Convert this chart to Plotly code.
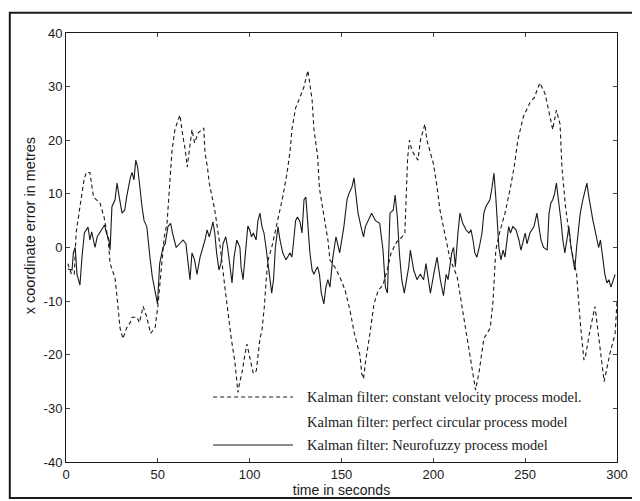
import plotly.graph_objects as go

# ---- data ----
time_cv = [1, 3, 4.5, 5.5, 7.6, 9.8, 11, 13, 15, 18.5, 20.7, 23, 24, 26.7, 28, 29.4, 31, 33, 35, 36,
           38.6, 40, 42, 44, 46, 48.5, 50, 52, 53.5, 55, 56, 56.5, 57, 57.7, 59.3, 62, 63.7, 65, 66,
           68.6, 70, 72, 75, 75.7, 77, 78, 81, 83, 84, 86.5, 88, 90, 92, 93, 93.6, 94.7, 96, 97.4,
           98.5, 100, 102, 103.6, 105.6, 106.7, 108, 109, 110, 112, 114, 116, 118, 120.3, 122, 123,
           125, 127.4, 129.6, 131.7, 134, 135, 137, 138, 140.4, 142.6, 143.7, 147, 149.7, 152, 154.6,
           157, 160, 161, 162, 163, 165.5, 167.7, 170, 172.6, 175, 177, 180, 183, 184.5, 185, 185.5,
           186, 187, 188.4, 191.6, 193, 195.4, 196.5, 200, 202, 203.6, 205, 207, 209, 213, 215.6,
           217.8, 220, 222, 223, 225, 227.5, 231, 232.5, 233.3, 234, 236, 239, 241.7, 244, 246, 249,
           252.6, 255, 258, 260.8, 263.5, 265, 267, 269, 270, 272, 275, 278, 280, 282, 283, 285, 288,
           290, 293, 296, 299, 300]
err_cv = [-3, -5, -5, 2.7, 7.6, 12.6, 14, 14, 9.4, 8.3, 5.7, 1.4, -3, -5.7, -10, -15, -17, -15, -14, -13,
          -13, -14, -11, -13, -16, -15, -11, -3, 2, 4.5, 9.4, 12.6, 15, 18, 22, 24.7, 20.6, 18, 15,
          22, 19.5, 21.4, 22.3, 17.6, 15, 12, 7, 2.7, 0, -7.4, -12, -17, -21.5, -25, -27, -25, -23, -20,
          -18, -20.4, -23.5, -23, -17, -15.4, -11, -6, -2.3, 0, 3, 6, 9.4, 13.8, 18, 22,
          26, 28, 30, 33, 27.5, 22, 17, 11, 5.7, 1.4, -2.3, -4, -6, -8, -11.7,
          -16, -20, -23.5, -24.5, -21.5, -16, -10.5, -8, -7, -4, -1, 1, 2, 2.7, 7, 11.4,
          16.7, 20, 18, 16.3, 20, 23, 20, 15.7, 11.4, 7, 4.5, 1.4, -2, -5.5, -11,
          -15, -19.7, -24, -26.6, -23, -17, -15, -10, -5, -0.5, 2.7, 6.4, 10.7, 15, 20, 24.4,
          27, 28, 30.7, 28.7, 24.4, 22, 25.6, 23, 15, 7.5, 0, -5, -14, -21, -20, -16, -11,
          -17, -25, -20, -16, -10]

time_nf = [1, 3.3, 4, 5, 6, 7.6, 8.7, 10, 12, 13, 14, 15.8, 17, 19.6, 21, 22, 23.4, 24, 25, 26.7, 27.8,
           29, 30.5, 32, 33, 35, 36, 37, 38, 39, 40, 41.4, 42.5, 44, 45.7, 47, 48.4, 49.8, 51, 52.8,
           54, 55.5, 57, 58, 60, 62, 63.7, 65.3, 66.4, 67.5, 68.6, 70, 71.3, 73, 74.5, 75.7, 76.8, 78,
           79, 80, 81, 82, 83.3, 84.4, 85.5, 87, 88, 89.3, 90.4, 91.5, 93, 94.7, 95.3, 96.4, 98, 99,
           100, 101, 102, 103.5, 104.5, 105.6, 106.7, 107.8, 108.9, 110, 111, 112, 113, 114, 115.4,
           116.5, 118, 119.8, 122, 123, 124, 125, 126, 127.4, 128.5, 129.6, 130.6, 131.7, 132.8, 134,
           135, 136, 137, 138, 139, 140.4, 141.5, 142.6, 143.7, 145.3, 147, 149, 150, 151.3, 153,
           154, 155.7, 156.8, 158, 159, 160.6, 162, 163, 166.4, 168.5, 170.8, 172.6, 173.9, 175,
           175.8, 176.4, 178.2, 179.2, 180.4, 181.5, 182.8, 184.2, 186.6, 187.5, 189.3, 191.1, 192.9,
           194.7, 196, 198.4, 200.2, 202, 203.8, 205.5, 207, 208, 209, 210, 211, 212, 213.4, 214.5,
           216, 217.8, 219.4, 220.5, 221.6, 222.6, 223.7, 225, 226.5, 227.5, 228.6, 229.7, 230.8,
           232, 233, 234, 234.8, 235.7, 236.8, 238, 239, 240, 241, 242, 243.3, 245, 246.6, 247.7,
           249, 250, 251, 252.6, 254.8, 256.4, 257.5, 258.6, 260, 262, 263, 264, 265, 266, 267,
           268.4, 269.5, 270.5, 271.6, 272.7, 273.8, 275, 276, 277, 278, 279, 280, 281.4, 282.5,
           283.6, 284.7, 285.8, 286.9, 288, 289, 290, 291, 292, 293.4, 294.5, 295.6, 296.7, 297.8, 299]
err_nf = [-4, -4.2, -1, 0, -5, -7, -1.8, 2.7, 3.8, 1.4, 2.9, 0, 2, 3.3, 4.2, 2.7, 1.4, -0.5, 7.6, 8.9, 12,
          9.4, 6.4, 7, 9.4, 13, 14, 12.6, 16.3, 15, 11.3, 7.6, 5, 3.9, -1.8, -5.5, -8, -10.5, -3, 0,
          0.7, 3.9, 4.5, 2.7, 0, 0.7, 1.4, 0.7, -2.3, -6, -1, -2.3, -5, -1.8, 0, 1.4, 3.3, 2,
          3.3, 4.8, 2.7, -1, -4.2, -2.9, 0.7, 2, 0, -3.6, -6.6, -1.8, 1.4, 0, -3.6, -6, 0.7, 4,
          3.3, 2, 2.7, 1.4, 5, 6.4, 3.9, 2.7, 0, -3, -5, -8.5, -6, 0, 3.9,
          1.4, -1, -2.3, -1, -1.8, 1.4, 5, 5.7, 4.8, 2.7, 8.9, 9.4, 4.5, -1, -4.2,
          -5, -4.2, -3.6, -5, -8.5, -10.5, -7.4, -6, -7.4, -1.8, 2, -1, 1, 3.9, 8.9,
          10, 11.3, 13, 9.4, 6.4, 3.9, 2, 3.9, 6.4, 5, 4.5, -0.5, -7.4, -8.5,
          1.4, 6.4, 7, 9.8, 5.7, -1, -6, -8.5, -3.6, -0.5, -4.2, -6, -5,
          -6, -3, -8.5, -5, -1.8, -6, -9, -5, -6, -3.6, -1, 0, -3.6, 2.7, 6.4,
          4.5, 3.3, 2.7, 3.3, 1.4, -1, -1.8, 0, 2.7, 6.4, 7.6, 8.3, 8.9,
          11.3, 13.9, 9.4, 3.9, 0, -2.3, -0.5, -1.8, 0.7, 3.9, 2.7, 3.9, 3.3, 1.4, -0.5,
          1.4, 2.7, 0.7, 2.7, 3.9, 6.4, 3.9, 1.4, 0, -0.5, 6.4, 8.3, 8.9, 10, 12,
          8.3, 5, 1.4, -1, 1.4, 3.9, 0, -2.3, -4.2, 0, 2.7, 6.4, 8.9, 10.7,
          12, 9.4, 7, 5, 3.3, 1.4, 0, 1.4, -1, -5, -6.6, -6, -7.4, -6, -5]

x_ticks = [0, 50, 100, 150, 200, 250, 300]
x_tick_labels = ["0", "50", "100", "150", "200", "250", "300"]
y_ticks = [-40, -30, -20, -10, 0, 10, 20, 30, 40]
y_tick_labels = ["-40", "-30", "-20", "-10", "0", "10", "20", "30", "40"]

legend_labels = ["Kalman filter: constant velocity process model.",
                 "Kalman filter: perfect circular process model",
                 "Kalman filter: Neurofuzzy process model"]
x_title = "time in seconds"
y_title = "x coordinate error in metres"

ink = "#1a1a1a"

fig = go.Figure()
fig.add_trace(go.Scatter(x=time_cv, y=err_cv, mode="lines", name=legend_labels[0],
                         line=dict(color=ink, width=1.1, dash="4px,3px"), showlegend=False))
fig.add_trace(go.Scatter(x=time_nf, y=err_nf, mode="lines", name=legend_labels[2],
                         line=dict(color=ink, width=1.1), showlegend=False))

# manual legend (long line samples as in the reference)
leg_x0, leg_x1, leg_tx = 0.267, 0.412, 0.434
leg_y = [0.1515, 0.0932, 0.0396]
leg_dash = ["4px,3px", None, "solid"]
for lab, yy, dsh in zip(legend_labels, leg_y, leg_dash):
    if dsh is not None:
        fig.add_shape(type="line", xref="paper", yref="paper", x0=leg_x0, x1=leg_x1, y0=yy, y1=yy,
                      line=dict(color=ink, width=1, dash=dsh))
    fig.add_annotation(xref="paper", yref="paper", x=leg_tx, y=yy, text=lab, showarrow=False,
                       xanchor="left", yanchor="middle",
                       font=dict(family="Liberation Serif", size=14.5, color=ink))

# y-axis title (placed slightly above centre as in the reference)
fig.add_annotation(xref="paper", yref="paper", x=-0.065, y=0.55, text=y_title, textangle=-90,
                   showarrow=False, xanchor="center", yanchor="middle",
                   font=dict(family="Liberation Sans", size=14.5, color=ink))

# outer scanned-page frame
fig.add_shape(type="rect", xref="paper", yref="paper", x0=-0.102, x1=1.031, y0=-0.084, y1=1.047,
              line=dict(color=ink, width=2))

# the page body adds an 8px offset, so the figure is sized 8px smaller
fig.update_layout(
    width=632, height=493,
    margin=dict(l=58, r=23, t=25, b=39),
    paper_bgcolor="white", plot_bgcolor="white",
    font=dict(family="Liberation Sans", size=13, color=ink),
    showlegend=False,
)
fig.update_xaxes(range=[0, 300], tickvals=x_ticks, ticktext=x_tick_labels, ticks="inside", ticklen=4,
                 showline=True, linecolor=ink, linewidth=1, mirror="ticks", showgrid=False, zeroline=False,
                 tickfont=dict(size=13), automargin=False,
                 title=dict(text=x_title, standoff=0, font=dict(size=14)))
fig.update_yaxes(range=[-40, 40], tickvals=y_ticks, ticktext=y_tick_labels, ticks="inside", ticklen=4,
                 showline=True, linecolor=ink, linewidth=1, mirror="ticks", showgrid=False, zeroline=False,
                 tickfont=dict(size=13), automargin=False)

fig.write_html("out.html")
